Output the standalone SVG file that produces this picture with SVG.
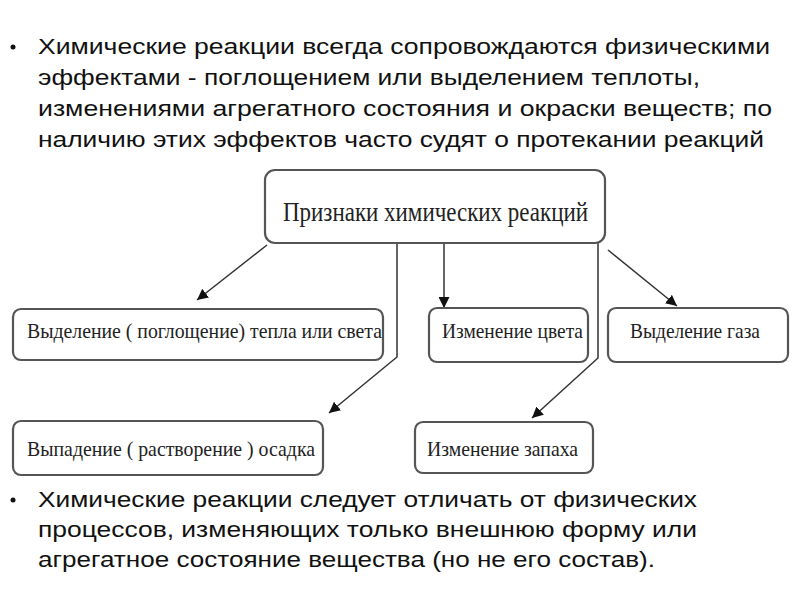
<svg xmlns="http://www.w3.org/2000/svg" width="800" height="600" viewBox="0 0 800 600">
<defs>
<marker id="ah" viewBox="0 0 10 10" refX="10" refY="5" markerWidth="11" markerHeight="11" markerUnits="userSpaceOnUse" orient="auto">
<path d="M0,0 L10,5 L0,10 Z" fill="#111"/>
</marker>
<style>
.b{font-family:"Liberation Sans",Arial,sans-serif;font-size:22px;fill:#111}
.n rect{fill:#fff;stroke:#555;stroke-width:2.2}
.n text{font-family:"Liberation Serif","Times New Roman",serif;fill:#222}
.c{fill:none;stroke:#333;stroke-width:1.5}
</style>
</defs>
<rect width="800" height="600" fill="#fff"/>
<g id="text-top">
<circle cx="13" cy="47" r="2.5" fill="#111"/>
<text class="b" x="38" y="54" textLength="732" lengthAdjust="spacingAndGlyphs">Химические реакции всегда сопровождаются физическими</text>
<text class="b" x="38" y="85" textLength="662" lengthAdjust="spacingAndGlyphs">эффектами - поглощением или выделением теплоты,</text>
<text class="b" x="38" y="116" textLength="734" lengthAdjust="spacingAndGlyphs">изменениями агрегатного состояния и окраски веществ; по</text>
<text class="b" x="38" y="147" textLength="726" lengthAdjust="spacingAndGlyphs">наличию этих эффектов часто судят о протекании реакций</text>
</g>
<g id="connectors">
<path class="c" d="M267,245 L197,300" marker-end="url(#ah)"/>
<path class="c" d="M444,243 L444,308" marker-end="url(#ah)"/>
<path class="c" d="M608,250 L677,306" marker-end="url(#ah)"/>
<path class="c" d="M397,243 L397,357 L329,413" marker-end="url(#ah)"/>
<path class="c" d="M598,243 L598,358 L532,418" marker-end="url(#ah)"/>
</g>
<g id="main" class="n">
<rect x="265" y="170" width="340" height="73" rx="10"/>
<text x="283" y="221" font-size="28" textLength="305" lengthAdjust="spacingAndGlyphs">Признаки химических реакций</text>
</g>
<g id="heat" class="n">
<rect x="13" y="309" width="370" height="51" rx="8"/>
<text x="27" y="338" font-size="21" textLength="355" lengthAdjust="spacingAndGlyphs">Выделение ( поглощение) тепла или света</text>
</g>
<g id="color" class="n">
<rect x="429" y="308" width="159" height="54" rx="8"/>
<text x="442" y="338" font-size="21" textLength="141" lengthAdjust="spacingAndGlyphs">Изменение цвета</text>
</g>
<g id="gas" class="n">
<rect x="608" y="308" width="180" height="54" rx="8"/>
<text x="630" y="338" font-size="21" textLength="130" lengthAdjust="spacingAndGlyphs">Выделение газа</text>
</g>
<g id="precipitate" class="n">
<rect x="13" y="421" width="310" height="54" rx="8"/>
<text x="27" y="456" font-size="21" textLength="288" lengthAdjust="spacingAndGlyphs">Выпадение ( растворение ) осадка</text>
</g>
<g id="smell" class="n">
<rect x="415" y="422" width="178" height="51" rx="8"/>
<text x="427" y="456" font-size="21" textLength="151" lengthAdjust="spacingAndGlyphs">Изменение запаха</text>
</g>
<g id="text-bottom">
<circle cx="13" cy="500" r="2.5" fill="#111"/>
<text class="b" x="38" y="507" textLength="659" lengthAdjust="spacingAndGlyphs">Химические реакции следует отличать от физических</text>
<text class="b" x="38" y="537" textLength="659" lengthAdjust="spacingAndGlyphs">процессов, изменяющих только внешнюю форму или</text>
<text class="b" x="38" y="567" textLength="617" lengthAdjust="spacingAndGlyphs">агрегатное состояние вещества (но не его состав).</text>
</g>
</svg>
